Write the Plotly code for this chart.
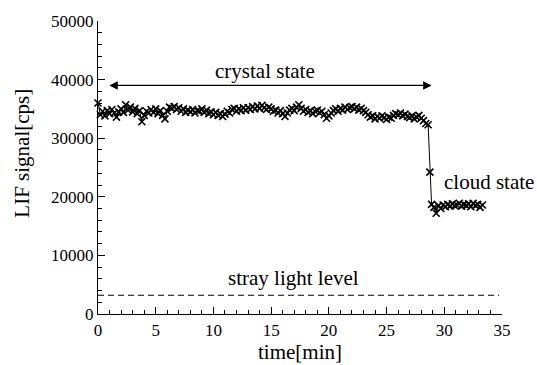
import numpy as np
import plotly.graph_objects as go

# crystal state samples, every 0.2 min from t = 0
crystal_signal = [
    36000, 34000, 34600, 33800, 34700,
    34200, 34900, 34300, 33600, 34500,
    35000, 34400, 35700, 34800, 35300,
    34500, 35100, 34200, 34700, 32800,
    33900, 34600, 34300, 34900, 34400,
    35000, 34200, 34700, 33900, 33300,
    34600, 35300, 35100, 35400, 34900,
    35200, 34600, 35000, 34400, 34800,
    34500, 34900, 34300, 34700, 34600,
    35000, 34400, 34800, 34200, 34500,
    34000, 34400, 33900, 34200, 33700,
    34100, 34600, 34300, 34900, 35100,
    34600, 35000, 34700, 35200, 34800,
    35200, 34900, 35400, 35000, 35500,
    35100, 35600, 35200, 34900, 35300,
    35000, 34600, 34800, 34300, 34700,
    34200, 33700, 34300, 34800, 35100,
    34700, 35300, 35700, 35100, 34600,
    34900, 34400, 34700, 34200, 34600,
    34800, 34300, 34600, 34000, 33400,
    33800, 34300, 34700, 35000, 34600,
    35100, 34800, 35300, 34900, 35200,
    35400, 35000, 35300, 34800, 35100,
    34700, 34400, 34000, 33600, 33800,
    33300, 33700, 33400, 33800, 33500,
    33200, 33600, 33400, 33900, 34200,
    34000, 34300, 33800, 34100, 33700,
    33500, 33800, 33300, 33600, 33900,
    33400, 33000, 32500,
]
crystal_time = list(np.round(np.arange(len(crystal_signal)) * 0.2, 2))

transition_time = [28.6, 28.75]
transition_signal = [32300, 24200]

cloud_signal = [
    18700, 18200, 17200, 18500, 18000, 18600, 18300, 18700, 18400, 18800,
    18500, 18600, 18900, 18400, 18700, 18500, 18800, 18300, 18900, 18500,
    18700, 18200, 18600,
]
cloud_time = list(np.round(28.9 + np.arange(len(cloud_signal)) * 0.2, 2))

time = crystal_time + transition_time + cloud_time
signal = crystal_signal + transition_signal + cloud_signal

stray_level = 3200
stray_x = [0, 34.75]

x_ticks = [0, 5, 10, 15, 20, 25, 30, 35]
y_ticks = [0, 10000, 20000, 30000, 40000, 50000]

FONT = "Liberation Serif"

W, H = 537, 365
L, R, T, B = 98, 35, 18, 51
pw, ph = W - L - R, H - T - B


def px_to_paper(px, py):
    return (px - L) / pw, (H - B - py) / ph


fig = go.Figure()
fig.add_trace(go.Scatter(
    x=stray_x, y=[stray_level, stray_level], mode="lines",
    line=dict(color="black", width=1, dash="6px,4px"),
    showlegend=False, hoverinfo="skip",
))
fig.add_trace(go.Scatter(
    x=time, y=signal, mode="lines+markers",
    line=dict(color="black", width=1),
    marker=dict(symbol="x-thin", size=7, color="black",
                line=dict(color="black", width=1.6)),
    cliponaxis=False, showlegend=False,
))

axis_common = dict(
    showgrid=False, zeroline=False, showline=True, linecolor="black",
    linewidth=1.3, ticks="inside", tickcolor="black", ticklen=7, tickwidth=1,
    tickfont=dict(family=FONT, size=17, color="black"),
    minor=dict(ticks="inside", ticklen=4, tickcolor="black", tickwidth=1),
)
fig.update_xaxes(range=[0, 35], tickvals=x_ticks, ticktext=[str(v) for v in x_ticks],
                 minor_dtick=1, **axis_common)
fig.update_yaxes(range=[0, 50000], tickvals=y_ticks, ticktext=[str(v) for v in y_ticks],
                 minor_dtick=2000, **axis_common)

ann_font = dict(family=FONT, size=21, color="black")
fig.add_annotation(x=28.9, y=39000, ax=0.85, ay=39000, xref="x", yref="y",
                   axref="x", ayref="y", text="", showarrow=True,
                   arrowhead=2, arrowside="end+start", arrowsize=1.3,
                   arrowwidth=1.3, arrowcolor="black")
fig.add_annotation(x=14.5, y=41400, xref="x", yref="y", text="crystal state",
                   showarrow=False, font=ann_font)
fig.add_annotation(x=29.8, y=22600, xref="x", yref="y", text="cloud state",
                   showarrow=False, xanchor="left", font=ann_font)
fig.add_annotation(x=16.9, y=6100, xref="x", yref="y", text="stray light level",
                   showarrow=False, font=ann_font)
yx, yy = px_to_paper(22, 152)
fig.add_annotation(x=yx, y=yy, xref="paper", yref="paper", text="LIF signal[cps]",
                   showarrow=False, textangle=-90, font=ann_font,
                   xanchor="center", yanchor="middle")
tx, ty = px_to_paper(300, 352)
fig.add_annotation(x=tx, y=ty, xref="paper", yref="paper", text="time[min]",
                   showarrow=False, font=ann_font, xanchor="center", yanchor="middle")

fig.update_layout(
    width=W, height=H, margin=dict(l=L, r=R, t=T, b=B),
    paper_bgcolor="white", plot_bgcolor="white",
    font=dict(family=FONT, color="black"),
)
fig.write_html("out.html")
